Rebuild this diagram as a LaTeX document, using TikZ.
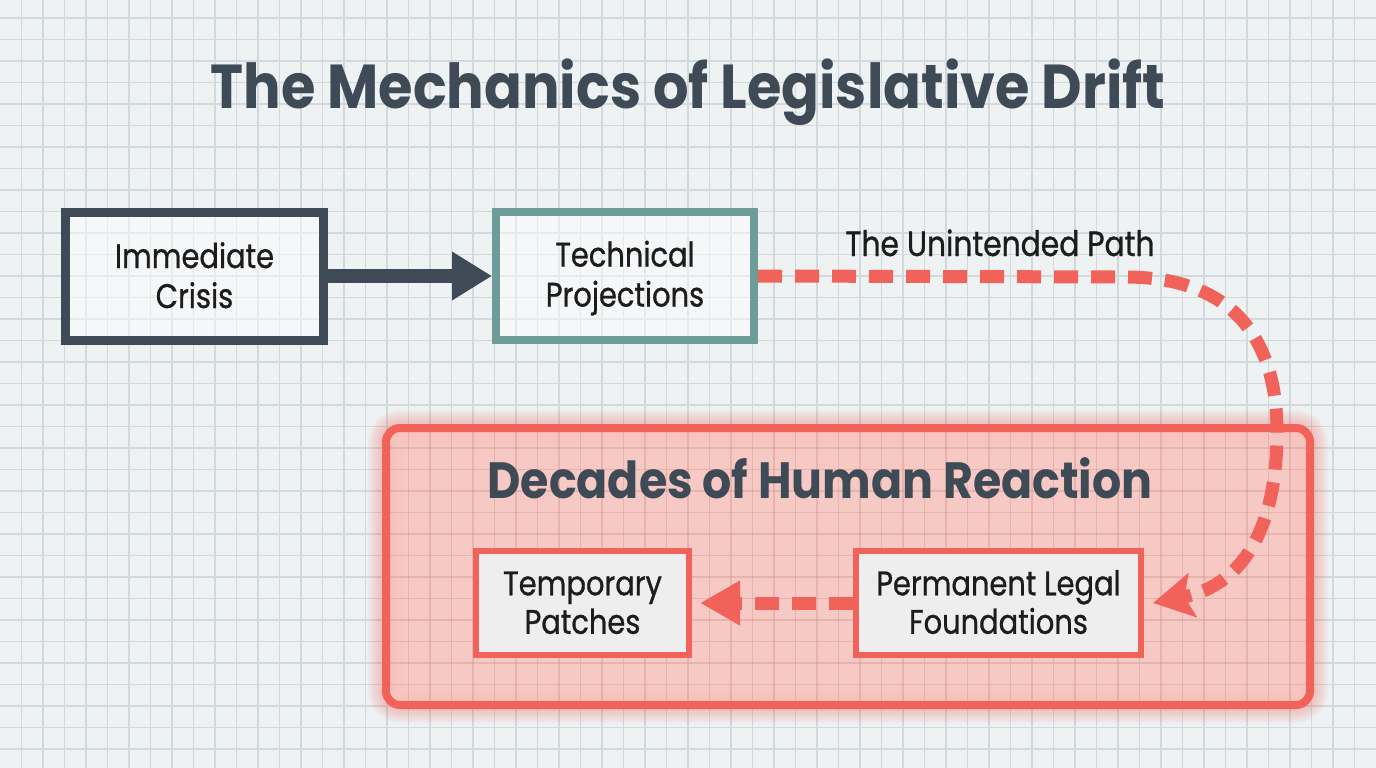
\documentclass[tikz,border=0pt]{standalone}
\usepackage{fontspec}
\setmainfont{Poppins}[FakeStretch=0.85,FakeBold=0.8]
\newfontfamily\headfont{Poppins}[FakeStretch=0.9]
\usetikzlibrary{arrows.meta}
\definecolor{bg}{HTML}{EEF2F3}
\definecolor{gridc}{HTML}{D2D9DC}
\definecolor{slate}{HTML}{3E4A56}
\definecolor{tealc}{HTML}{6E9C99}
\definecolor{coral}{HTML}{F0625A}
\definecolor{pinkfill}{HTML}{F9C2BC}
\definecolor{pinkgrid}{HTML}{C98A84}
\definecolor{ink}{HTML}{1C1C1C}
\newcommand\tstrut{\rule[-6pt]{0pt}{36pt}}
\newcommand\bstrut{\rule[-6pt]{0pt}{35pt}}
\tikzset{
  gridline/.style={draw=gridc, line width=1.3pt},
  box/.style={draw, align=center, text=ink, inner sep=0pt,
    font=\fontsize{34}{40}\selectfont},
  topbox/.style={box, fill=white, fill opacity=0.45, text opacity=1,
    minimum width=258pt, minimum height=128pt},
  redbox/.style={box, draw=coral, line width=6pt, fill=bg, fill opacity=0.92, text opacity=1,
    minimum height=104pt, font=\fontsize{34}{38.5}\selectfont},
  reddash/.style={draw=coral, line width=13pt, dash pattern=on 24pt off 13pt},
  heading/.style={text=slate, font=\headfont\fontsize{62}{70}\selectfont\bfseries, anchor=base},
}
\begin{document}
\begin{tikzpicture}[x=1pt,y=-1pt]
\useasboundingbox (0,0) rectangle (1376,768);
\fill[bg] (0,0) rectangle (1376,768);
\foreach \i in {1,...,63} \draw[gridline] (\i*21.5,0) -- (\i*21.5,768);
\foreach \j in {0,...,35} \draw[gridline] (0,18+\j*21.5) -- (1376,18+\j*21.5);

% glow of red frame
\foreach \k in {1,...,7}
  \draw[coral, opacity=0.05, line width=8pt+\k*4pt, rounded corners=14pt]
    (386,428) rectangle (1310,705);
\fill[pinkfill, opacity=0.85, rounded corners=14pt] (386,428) rectangle (1310,705);
\begin{scope}
  \clip[rounded corners=14pt] (386,428) rectangle (1310,705);
  \foreach \i in {18,...,61} \draw[pinkgrid, opacity=0.3, line width=1.3pt] (\i*21.5,420) -- (\i*21.5,710);
  \foreach \j in {19,...,32} \draw[pinkgrid, opacity=0.3, line width=1.3pt] (380,18+\j*21.5) -- (1316,18+\j*21.5);
\end{scope}
\draw[coral, line width=8pt, rounded corners=14pt] (386,428) rectangle (1310,705);

% title
\node[heading] (title) at (688,108) {The Mechanics of Legislative Drift};

% top row
\node[topbox, draw=slate, line width=9pt] (ic) at (194.5,276) {Immediate\tstrut\\Crisis\tstrut};
\node[topbox, draw=tealc, line width=8pt] (tp) at (625,276) {Technical\tstrut\\Projections\tstrut};
\draw[slate, line width=14pt, -{Triangle[length=40pt,width=46pt]}] (ic.east) -- (tp.west);

% lower group
\node[heading, font=\headfont\fontsize{51}{56}\selectfont\bfseries] (dec) at (820,498) {Decades of Human Reaction};
\node[redbox, minimum width=213pt] (tmp) at (582.5,603) {Temporary\bstrut\\Patches\bstrut};
\node[redbox, minimum width=285pt] (perm) at (998.5,603) {Permanent Legal\bstrut\\Foundations\bstrut};

% unintended path
\node[text=ink, font=\fontsize{35}{40}\selectfont, anchor=base] (lbl) at (1000,256) {The Unintended Path};
\draw[reddash, -{Stealth[length=40pt,width=44pt,inset=8pt]}] (tp.east) -- (1125,277)
  .. controls (1234,277) and (1277,340) .. (1277,432)
  .. controls (1277,525) and (1245,585) .. ([xshift=9pt]perm.east);
\draw[reddash, -{Triangle[length=40pt,width=42pt]}] (perm.west) -- ([xshift=8pt]tmp.east);
\end{tikzpicture}
\end{document}
